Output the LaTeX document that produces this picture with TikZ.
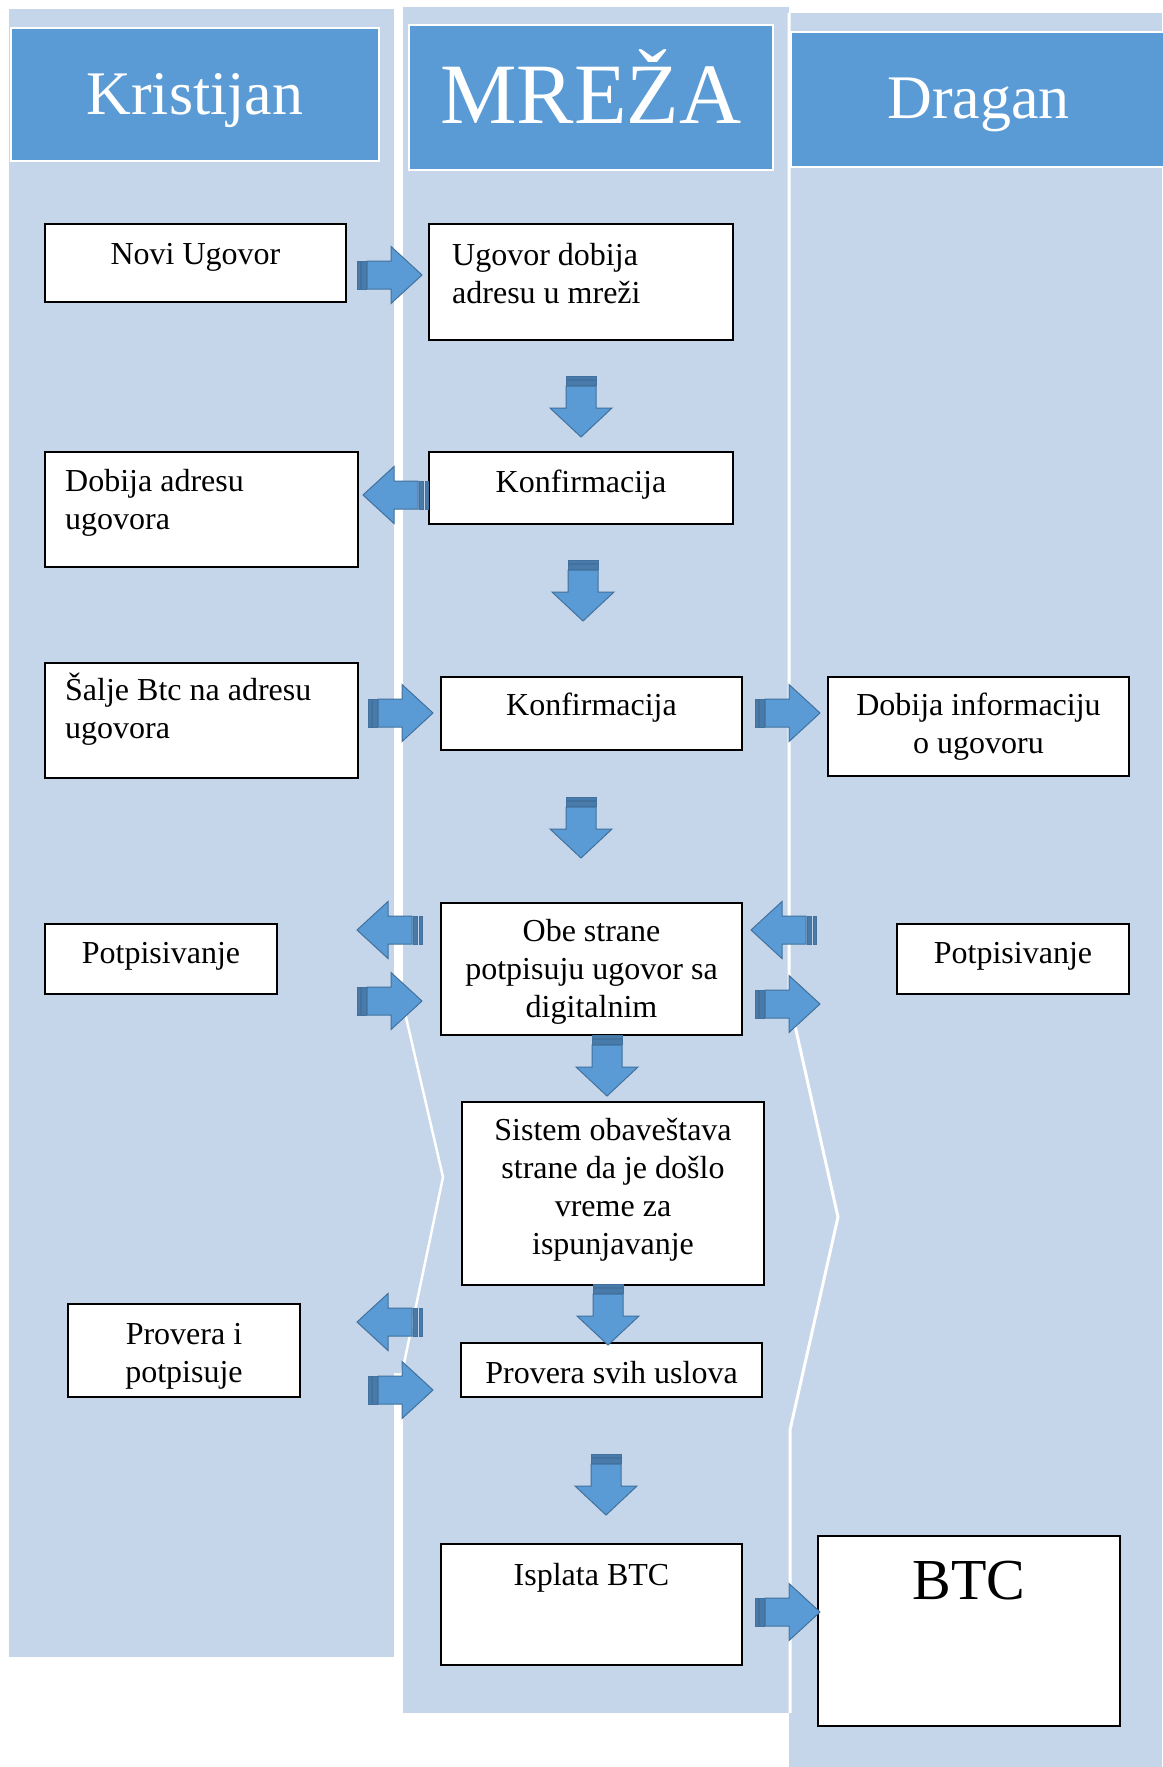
\documentclass[tikz,border=0pt]{standalone}
\usepackage{fontspec}
\setmainfont{Liberation Serif}
\definecolor{lane}{HTML}{C5D5EA}
\definecolor{hdrblue}{HTML}{5B9BD5}
\definecolor{arrblue}{HTML}{5B9BD5}
\definecolor{arredge}{HTML}{41719C}
\newcommand\tstrut{\rule{0pt}{30pt}}
\begin{document}
\begin{tikzpicture}[x=1pt,y=-1pt,
  hdr/.style={rectangle, fill=hdrblue, draw=white, line width=2pt, inner sep=0pt},
  hdrtext/.style={text=white, inner sep=0pt, anchor=base},
  box/.style={rectangle, fill=white, draw=black, line width=1.8pt, inner sep=0pt},
  btxt/.style={inner sep=0pt, font=\fontsize{32}{38}\selectfont, align=center, anchor=north, yshift=-2.5pt},
  btxtl/.style={inner sep=0pt, font=\fontsize{32}{38}\selectfont, align=left, anchor=north west, yshift=-2.5pt},
  arrowpart/.style={fill=arrblue, draw=arredge, line width=1pt, line join=miter},
  stripe/.style={fill=arredge!75!arrblue, draw=arredge, line width=1pt},
  sep/.style={draw=white, line width=2.5pt},
  harrow/.pic={
    \path[stripe] (0,-14) rectangle (3,14);
    \path[stripe] (4.5,-14) rectangle (9,14);
    \path[arrowpart] (10,-14) -- (34,-14) -- (34,-28.5) -- (65,0) -- (34,28.5) -- (34,14) -- (10,14) -- cycle;
  },
  varrow/.pic={
    \path[stripe] (0,-15) rectangle (3,15);
    \path[stripe] (4.5,-15) rectangle (9,15);
    \path[arrowpart] (10,-15) -- (32,-15) -- (32,-31) -- (61,0) -- (32,31) -- (32,15) -- (10,15) -- cycle;
  }
]
\useasboundingbox (0,0) rectangle (1162,1767);
\fill[white] (0,0) rectangle (1162,1767);
% lanes
\fill[lane] (9,9) rectangle (394,1657);
\fill[lane] (403,7) rectangle (789,1713);
\fill[lane] (789,13) rectangle (1162,1767);
\fill[lane] (392,1000) -- (403,1000) -- (443,1177) -- (403,1373) -- (392,1373) -- cycle;
\draw[sep] (402,1000) -- (443,1177) -- (402,1373);
\draw[sep, line width=3pt] (789,13) -- (789,999) -- (838,1217) -- (790,1430) -- (790,1713);
% headers
\node[hdr, minimum width=368pt, minimum height=133pt] (hK) at (195,94.5) {};
\node[hdrtext, font=\fontsize{62}{70}\selectfont] (tK) at (195,114) {Kristijan};
\node[hdr, minimum width=364pt, minimum height=145pt] (hM) at (591,97.5) {};
\node[hdrtext, font=\fontsize{86}{96}\selectfont] (tM) at (591,123) {MREŽA};
\node[hdr, minimum width=374pt, minimum height=135pt] (hD) at (978,99.5) {};
\node[hdrtext, font=\fontsize{62}{70}\selectfont] (tD) at (978.5,118) {Dragan};
% boxes
\node[box, minimum width=301pt, minimum height=78pt] (b1) at (195.5,263) {};
\node[btxt] (t1) at (195.5,232) {\tstrut Novi Ugovor};
\node[box, minimum width=304pt, minimum height=116pt] (b2) at (581,282) {};
\node[btxtl] (t2) at (452,233) {\tstrut Ugovor dobija\\adresu u mreži};
\node[box, minimum width=313pt, minimum height=115pt] (b3) at (201.5,509.5) {};
\node[btxtl] (t3) at (65,459) {\tstrut Dobija adresu\\ugovora};
\node[box, minimum width=304pt, minimum height=72pt] (b4) at (581,488) {};
\node[btxt] (t4) at (581,460) {\tstrut Konfirmacija};
\node[box, minimum width=313pt, minimum height=115pt] (b5) at (201.5,720.5) {};
\node[btxtl] (t5) at (65,668) {\tstrut Šalje Btc na adresu\\ugovora};
\node[box, minimum width=301pt, minimum height=73pt] (b6) at (591.5,713.5) {};
\node[btxt] (t6) at (591.5,683) {\tstrut Konfirmacija};
\node[box, minimum width=301pt, minimum height=99pt] (b7) at (978.5,726.5) {};
\node[btxt] (t7) at (978.5,683) {\tstrut Dobija informaciju\\o ugovoru};
\node[box, minimum width=232pt, minimum height=70pt] (b8) at (161,959) {};
\node[btxt] (t8) at (161,931) {\tstrut Potpisivanje};
\node[box, minimum width=301pt, minimum height=132pt] (b9) at (591.5,969) {};
\node[btxt] (t9) at (591.5,909) {\tstrut Obe strane\\potpisuju ugovor sa\\digitalnim};
\node[box, minimum width=232pt, minimum height=70pt] (b10) at (1013,959) {};
\node[btxt] (t10) at (1013,931) {\tstrut Potpisivanje};
\node[box, minimum width=302pt, minimum height=183pt] (b11) at (613,1193.5) {};
\node[btxt] (t11) at (613,1108) {\tstrut Sistem obaveštava\\strane da je došlo\\vreme za\\ispunjavanje};
\node[box, minimum width=301pt, minimum height=54pt] (b12) at (611.5,1370) {};
\node[btxt] (t12) at (611.5,1351) {\tstrut Provera svih uslova};
\node[box, minimum width=232pt, minimum height=93pt] (b13) at (184,1350.5) {};
\node[btxt] (t13) at (184,1312) {\tstrut Provera i\\potpisuje};
\node[box, minimum width=301pt, minimum height=121pt] (b14) at (591.5,1604.5) {};
\node[btxt] (t14) at (591.5,1553) {\tstrut Isplata BTC};
\node[box, minimum width=302pt, minimum height=190pt] (b15) at (969,1631) {};
\node[inner sep=0pt, anchor=base, font=\fontsize{58}{66}\selectfont] (t15) at (969,1599) {BTC};
% block arrows
\pic at (357,275) {harrow};
\pic[rotate=180] at (428,495) {harrow};
\pic at (368,713) {harrow};
\pic at (755,713) {harrow};
\pic[rotate=180] at (422,930) {harrow};
\pic at (357,1001) {harrow};
\pic[rotate=180] at (816,930) {harrow};
\pic at (755,1004) {harrow};
\pic[rotate=180] at (422,1322) {harrow};
\pic at (368,1390) {harrow};
\pic at (755,1612) {harrow};
\pic[rotate=-90] at (581,376) {varrow};
\pic[rotate=-90] at (583,560) {varrow};
\pic[rotate=-90] at (581,797) {varrow};
\pic[rotate=-90] at (607,1035) {varrow};
\pic[rotate=-90] at (608,1284) {varrow};
\pic[rotate=-90] at (606,1454) {varrow};
\end{tikzpicture}
\end{document}
